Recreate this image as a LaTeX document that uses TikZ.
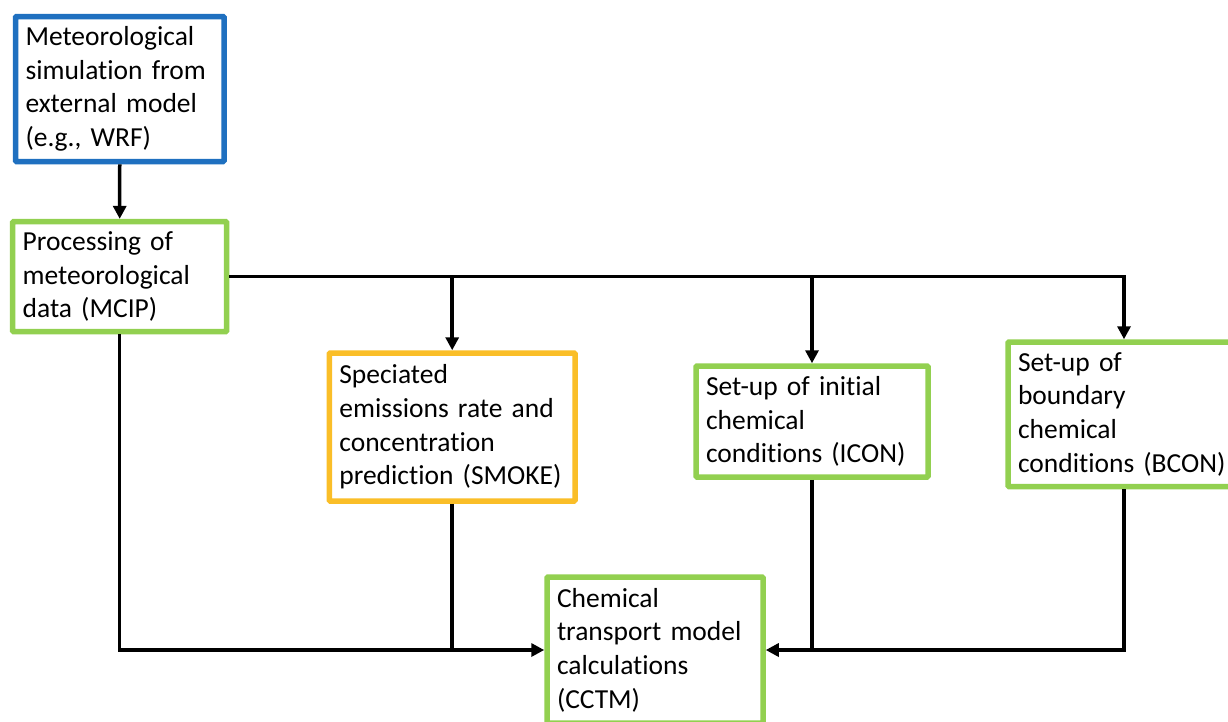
\documentclass[tikz,border=0pt]{standalone}
\usepackage{fontspec}
\setmainfont{Carlito}[Ligatures={NoCommon}]
\usetikzlibrary{arrows.meta}
\definecolor{boxblue}{RGB}{31,112,192}
\definecolor{boxgreen}{RGB}{146,208,80}
\definecolor{boxorange}{RGB}{250,190,40}
\begin{document}
\begin{tikzpicture}[x=1pt,y=-1pt,
  box/.style={draw, line width=5.5pt, rectangle, fill=white, inner xsep=10pt, inner ysep=0pt,
    align=left, font=\fontsize{27.5pt}{33.6pt}\selectfont, rounded corners=1pt},
  conn/.style={line width=3.5pt, black},
  arr/.style={conn, -{Triangle[length=13pt,width=13pt]}}]
\useasboundingbox (0,0) rectangle (1228,721);
\clip (0,0) rectangle (1228,721);
\fill[white] (0,0) rectangle (1228,721);
\node[box, draw=boxblue, minimum width=208.5pt, minimum height=145pt, text width=188.5pt] (wrf) at (119.75,89)
  {Meteorological\\simulation from\\external model\\(e.g., WRF)};
\node[box, draw=boxgreen, minimum width=214pt, minimum height=110pt, text width=194pt] (mcip) at (119.7,276.6)
  {Processing of\\meteorological\\data (MCIP)};
\node[box, draw=boxorange, minimum width=245.7pt, minimum height=148pt, text width=225.7pt] (smoke) at (452.2,427)
  {Speciated\\emissions rate and\\concentration\\prediction (SMOKE)};
\node[box, draw=boxgreen, minimum width=232pt, minimum height=111pt, text width=212pt] (icon) at (812,421.5)
  {Set-up of initial\\chemical\\conditions (ICON)};
\node[box, draw=boxgreen, minimum width=232pt, minimum height=144.5pt, text width=212pt] (bcon) at (1124,414.25)
  {Set-up of\\boundary\\chemical\\conditions (BCON)};
\node[box, draw=boxgreen, minimum width=216pt, minimum height=146pt, text width=196pt] (cctm) at (655,650)
  {Chemical\\transport model\\calculations\\(CCTM)};
\draw[arr] (wrf.south) -- (mcip.north);
\draw[arr] (mcip.east) -| (bcon.north);
\draw[arr] (mcip.east -| smoke.north) -- (smoke.north);
\draw[arr] (mcip.east -| icon.north) -- (icon.north);
\draw[arr] (mcip.south) |- (cctm.west);
\draw[conn] (smoke.south) -- (smoke.south |- cctm.west);
\draw[conn] (icon.south) -- (icon.south |- cctm.east);
\draw[arr] (bcon.south) |- (cctm.east);
\end{tikzpicture}
\end{document}
